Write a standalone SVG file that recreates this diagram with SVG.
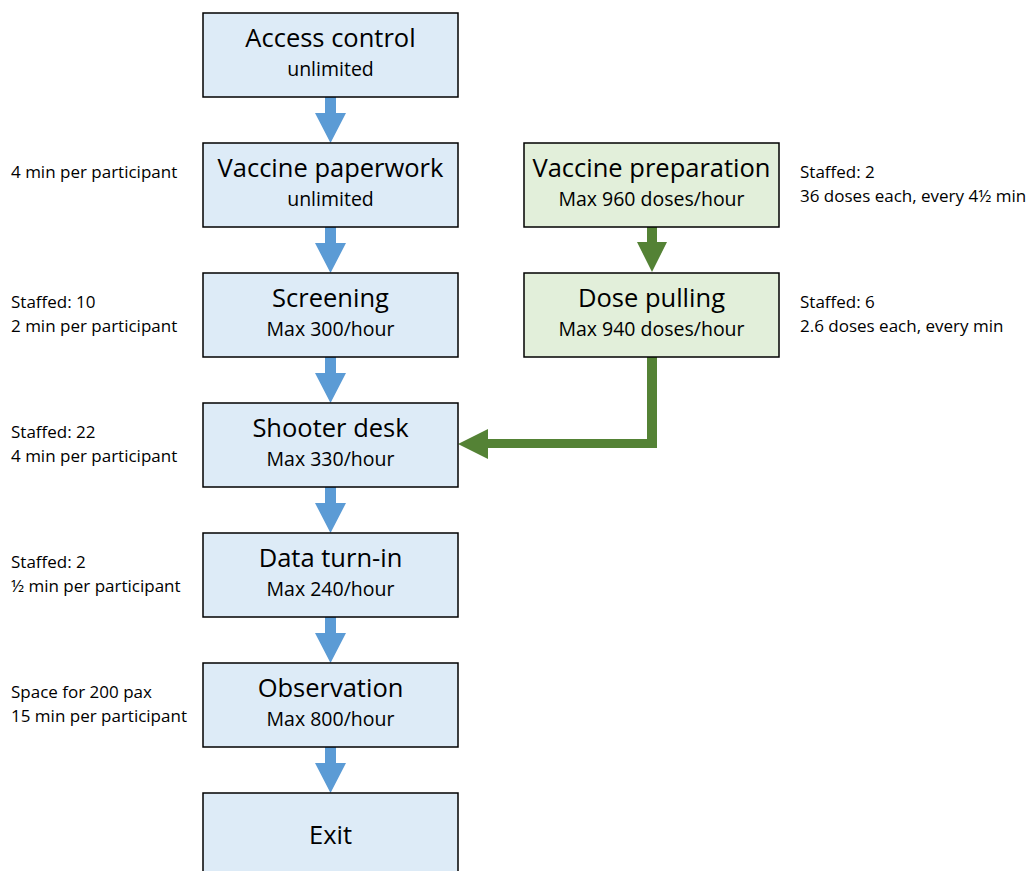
<svg xmlns="http://www.w3.org/2000/svg" width="1034" height="871" viewBox="0 0 1034 871">
<style>
.b{fill:#DDEBF7;stroke:#000;stroke-width:1.5}
.g{fill:#E2EFDA;stroke:#000;stroke-width:1.5}
.t{font-family:"Open Sans","Liberation Sans",sans-serif;font-size:25.5px;fill:#000;text-anchor:middle}
.s{font-family:"Open Sans","Liberation Sans",sans-serif;font-size:19.5px;fill:#000;text-anchor:middle}
.n{font-family:"Open Sans","Liberation Sans",sans-serif;font-size:17px;fill:#000}
.ba{fill:#5B9BD5}
.ga{fill:#548235}
</style>
<rect width="1034" height="871" fill="#fff"/>
<g id="connectors">
<path class="ba" d="M325,97h11v16h10l-15.5,30l-15.5,-30h10z"/>
<path class="ba" d="M325,227h11v16h10l-15.5,30l-15.5,-30h10z"/>
<path class="ba" d="M325,357h11v16h10l-15.5,30l-15.5,-30h10z"/>
<path class="ba" d="M325,487h11v16h10l-15.5,30l-15.5,-30h10z"/>
<path class="ba" d="M325,617h11v16h10l-15.5,30l-15.5,-30h10z"/>
<path class="ba" d="M325,747h11v16h10l-15.5,30l-15.5,-30h10z"/>
<path class="ga" d="M647,227h10v15h10l-15,30l-15,-30h10z"/>
<path class="ga" d="M647,357h10v91h-169v11l-30,-15l30,-15v10h159z"/>
</g>
<g id="access"><rect class="b" x="203" y="13" width="255" height="84"/><text class="t" x="330.5" y="47">Access control</text><text class="s" x="330.5" y="76">unlimited</text></g>
<g id="paperwork"><rect class="b" x="203" y="143" width="255" height="84"/><text class="t" x="330.5" y="177">Vaccine paperwork</text><text class="s" x="330.5" y="206">unlimited</text></g>
<g id="screening"><rect class="b" x="203" y="273" width="255" height="84"/><text class="t" x="330.5" y="307">Screening</text><text class="s" x="330.5" y="336">Max 300/hour</text></g>
<g id="shooter"><rect class="b" x="203" y="403" width="255" height="84"/><text class="t" x="330.5" y="437">Shooter desk</text><text class="s" x="330.5" y="466">Max 330/hour</text></g>
<g id="data"><rect class="b" x="203" y="533" width="255" height="84"/><text class="t" x="330.5" y="567">Data turn-in</text><text class="s" x="330.5" y="596">Max 240/hour</text></g>
<g id="observation"><rect class="b" x="203" y="663" width="255" height="84"/><text class="t" x="330.5" y="697">Observation</text><text class="s" x="330.5" y="726">Max 800/hour</text></g>
<g id="exit"><rect class="b" x="203" y="793" width="255" height="90"/><text class="t" x="330.5" y="844">Exit</text></g>
<g id="prep"><rect class="g" x="524" y="143" width="255" height="84"/><text class="t" x="651.5" y="177">Vaccine preparation</text><text class="s" x="651.5" y="206">Max 960 doses/hour</text></g>
<g id="pulling"><rect class="g" x="524" y="273" width="255" height="84"/><text class="t" x="651.5" y="307">Dose pulling</text><text class="s" x="651.5" y="336">Max 940 doses/hour</text></g>
<g id="notes">
<text class="n" x="11" y="178">4 min per participant</text>
<text class="n" x="11" y="308">Staffed: 10</text><text class="n" x="11" y="332">2 min per participant</text>
<text class="n" x="11" y="438">Staffed: 22</text><text class="n" x="11" y="462">4 min per participant</text>
<text class="n" x="11" y="568">Staffed: 2</text><text class="n" x="11" y="592">½ min per participant</text>
<text class="n" x="11" y="698">Space for 200 pax</text><text class="n" x="11" y="722">15 min per participant</text>
<text class="n" x="800" y="178">Staffed: 2</text><text class="n" x="800" y="202">36 doses each, every 4½ min</text>
<text class="n" x="800" y="308">Staffed: 6</text><text class="n" x="800" y="332">2.6 doses each, every min</text>
</g>
</svg>
